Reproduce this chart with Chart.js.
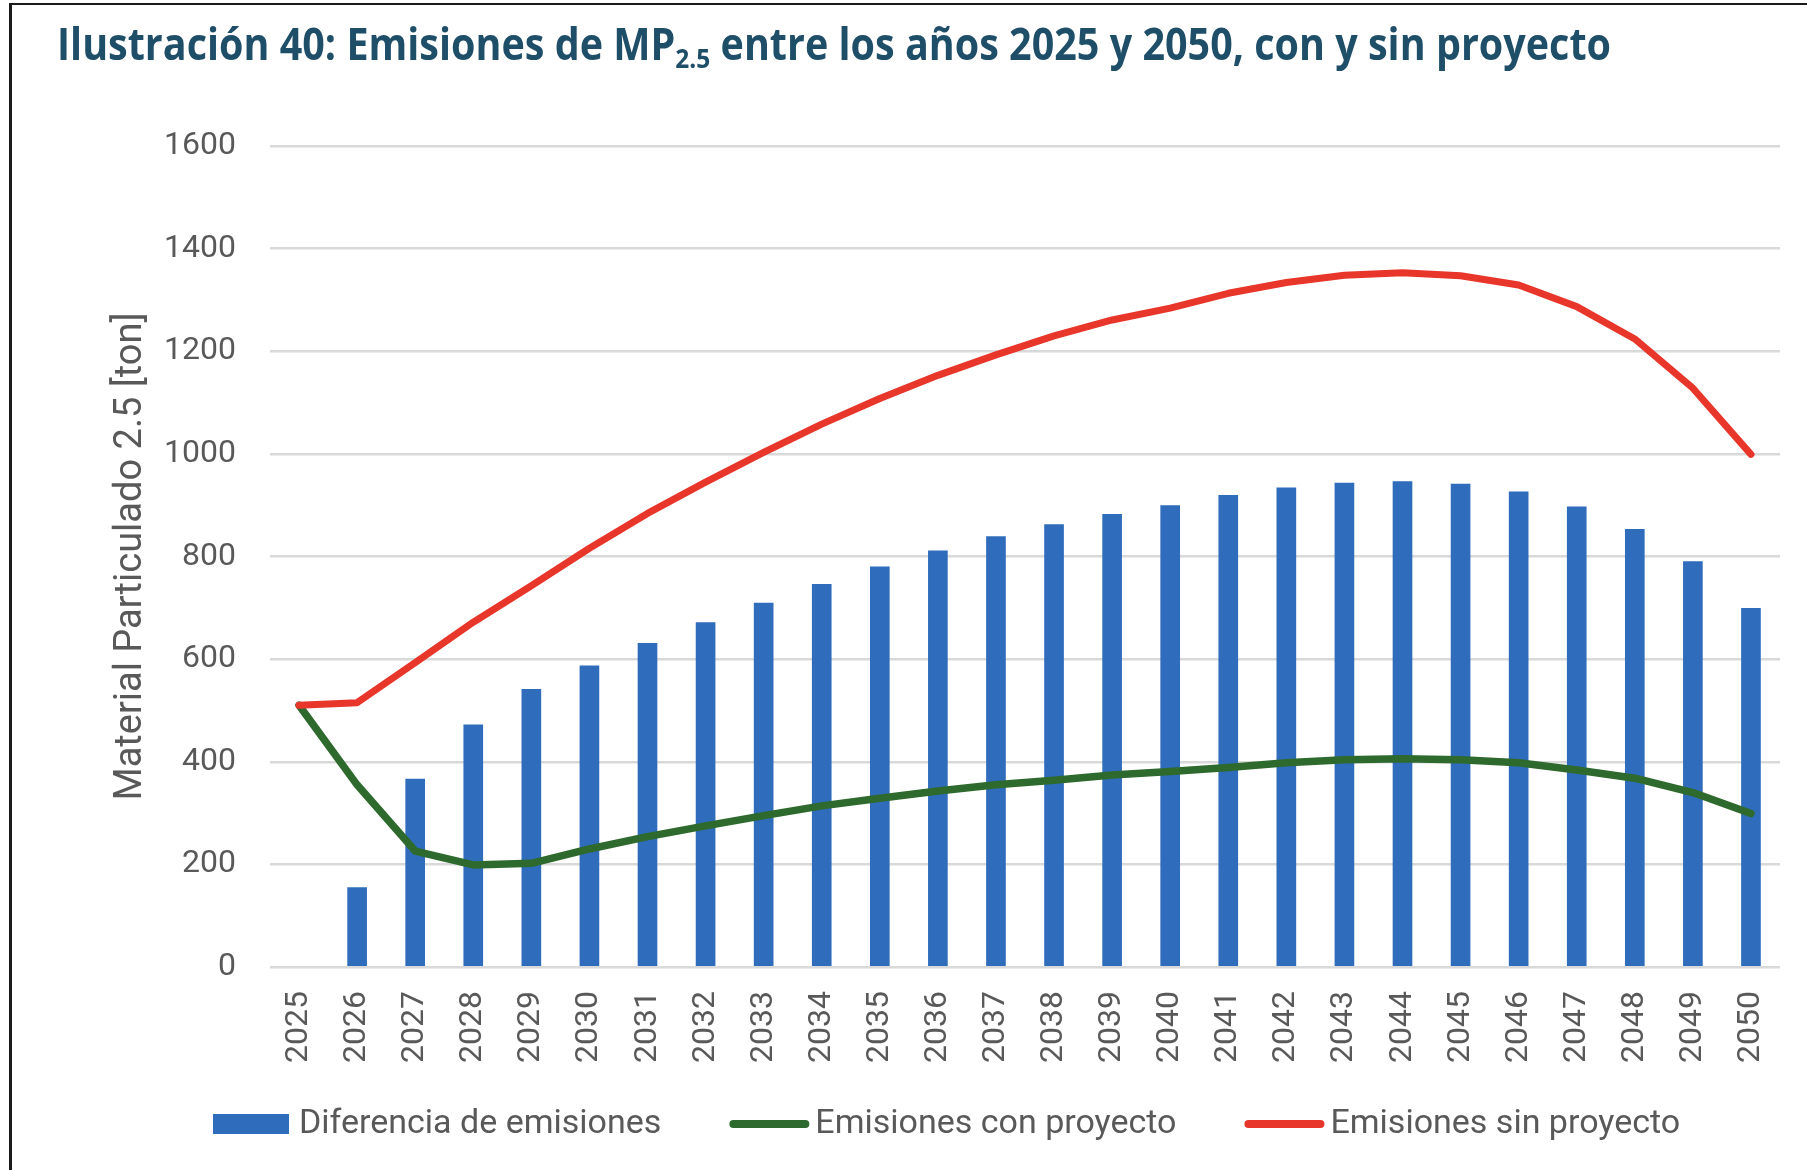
<!DOCTYPE html>
<html><head><meta charset="utf-8">
<script src="https://cdn.jsdelivr.net/npm/chart.js@4.4.1/dist/chart.umd.min.js"></script>
<style>
html,body{margin:0;padding:0;background:#fff;}
#wrap{position:relative;width:1807px;height:1170px;overflow:hidden;background:#fff;}
#c{position:absolute;left:0;top:0;}
#title{position:absolute;left:57px;top:21px;font-family:"Open Sans",sans-serif;font-weight:700;font-size:44px;color:#1F4E69;white-space:nowrap;transform-origin:0 0;line-height:1;}
#title sub{font-size:0.62em;vertical-align:-0.28em;line-height:0;}
.bt{position:absolute;left:9px;top:3px;width:1798px;height:2px;background:#1a1a1a;}
.bl{position:absolute;left:9px;top:3px;width:3px;height:1167px;background:#1a1a1a;}
</style></head>
<body>
<div id="wrap">
  <canvas id="c" width="1807" height="1170"></canvas>
  <div class="bt"></div><div class="bl"></div>
  <div id="title">Ilustración 40: Emisiones de MP<sub>2.5</sub> entre los años 2025 y 2050, con y sin proyecto</div>
</div>
<script>
const years = ['2025','2026','2027','2028','2029','2030','2031','2032','2033','2034','2035','2036','2037','2038','2039','2040','2041','2042','2043','2044','2045','2046','2047','2048','2049','2050'];
const diferencia = [null,155,366,472,541,587,631,671,709,746,780,811,839,862,882,899,919,934,943,946,941,926,897,853,790,699];
const conProyecto = [510,355,226,199,202,230,254,275,295,314,329,343,355,364,374,381,389,398,404,406,404,398,384,368,340,299];
const sinProyecto = [510,515,593,672,743,816,884,945,1003,1058,1108,1153,1193,1230,1261,1284,1313,1334,1348,1353,1347,1329,1287,1224,1128,999];
const seriesNames = ['Diferencia de emisiones','Emisiones con proyecto','Emisiones sin proyecto'];
const yMin = 0, yMax = 1600, yStep = 200;
const yTitle = 'Material Particulado 2.5 [ton]';

// fit title width
const t = document.getElementById('title');
const tw = t.getBoundingClientRect().width;
t.style.transform = 'scaleX(' + (1554 / tw) + ')';

const BLUE = '#2F6CBB', GREEN = '#2E6A2E', RED = '#E8362B', GRAY = '#595959';

const legendPlugin = {
  id: 'customLegend',
  afterDraw(chart) {
    const ctx = chart.ctx;
    const ds = chart.data.datasets;
    ctx.save();
    ctx.font = '34px Roboto';
    ctx.textBaseline = 'alphabetic';
    ctx.textAlign = 'left';
    let x = 213;
    const cy = 1124;
    const baseline = 1133;
    ds.forEach((d) => {
      if (d.type === 'bar') {
        ctx.fillStyle = d.backgroundColor;
        ctx.fillRect(x, cy - 10, 76, 20);
        x += 76 + 10;
      } else {
        ctx.strokeStyle = d.borderColor;
        ctx.lineWidth = 8;
        ctx.lineCap = 'round';
        ctx.beginPath();
        ctx.moveTo(x + 4, cy);
        ctx.lineTo(x + 76, cy);
        ctx.stroke();
        x += 80 + 6;
      }
      ctx.fillStyle = GRAY;
      ctx.fillText(d.label, x, baseline);
      x += ctx.measureText(d.label).width + 68;
    });
    ctx.restore();
  }
};

new Chart(document.getElementById('c'), {
  data: {
    labels: years,
    datasets: [
      { type: 'bar', label: seriesNames[0], data: diferencia, backgroundColor: BLUE, barThickness: 19, order: 2 },
      { type: 'line', label: seriesNames[1], data: conProyecto, borderColor: GREEN, backgroundColor: GREEN, borderWidth: 7.5, pointRadius: 0, tension: 0, borderCapStyle: 'round', borderJoinStyle: 'round', order: 1 },
      { type: 'line', label: seriesNames[2], data: sinProyecto, borderColor: RED, backgroundColor: RED, borderWidth: 7, pointRadius: 0, tension: 0, borderCapStyle: 'round', borderJoinStyle: 'round', order: 0 }
    ]
  },
  options: {
    responsive: false,
    devicePixelRatio: 1,
    animation: false,
    layout: { padding: { left: 111, right: 27, top: 146, bottom: 93 } },
    plugins: { legend: { display: false }, tooltip: { enabled: false }, title: { display: false } },
    scales: {
      x: {
        offset: true,
        grid: { display: false, drawTicks: false },
        border: { display: false },
        ticks: { font: { family: 'Roboto', size: 32 }, color: GRAY, maxRotation: 90, minRotation: 90, padding: 24, autoSkip: false },
        afterFit: s => { s.height = 110; s.paddingLeft = 0; s.paddingRight = 0; }
      },
      y: {
        min: yMin, max: yMax,
        ticks: { stepSize: yStep, font: { family: 'Roboto', size: 32 }, color: GRAY, padding: 34, callback: v => String(v) },
        grid: { color: '#D9D9D9', lineWidth: 2.5, drawTicks: false },
        border: { display: false },
        title: { display: true, text: yTitle, font: { family: 'Roboto', size: 38, lineHeight: 1 }, color: GRAY, padding: { top: 1, bottom: 0 } },
        afterFit: s => { s.width = 159; }
      }
    }
  },
  plugins: [legendPlugin]
});
</script>
</body></html>
